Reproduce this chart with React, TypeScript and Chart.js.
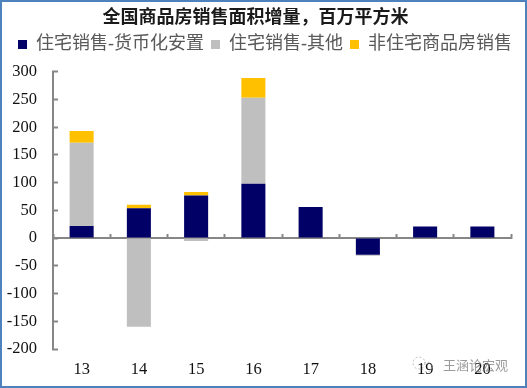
import React, { useEffect, useRef } from "react";
import { Chart, registerables } from "chart.js";

Chart.register(...registerables);

const categories = ["13", "14", "15", "16", "17", "18", "19", "20"];
const seriesNames = ["住宅销售-货币化安置", "住宅销售-其他", "非住宅商品房销售"];
const resettlement = [22, 54, 77, 98, 56, -30, 21, 21];
const otherResidential = [150, -160, -5, 155, 0, -2, 0, 0];
const nonResidential = [21, 6, 6, 36, 0, 0, 0, 0];
const titleText = "全国商品房销售面积增量，百万平方米";
const watermarkText = "王涵论宏观";

const SERIF = '"Liberation Serif", "Noto Sans CJK SC", serif';
const AXIS = "#868686";

const decorPlugin = {
  id: "decor",
  afterLayout(chart: any) {
    chart.legend.left += 8;
    chart.legend.right += 8;
  },
  afterDraw(chart: any) {
    const { ctx, width, height } = chart;
    ctx.save();
    ctx.strokeStyle = "#4f81bd";
    ctx.lineWidth = 2;
    ctx.strokeRect(1, 1, width - 2, height - 2);
    ctx.fillStyle = "rgba(120,120,120,0.75)";
    ctx.font = '13px "Noto Sans CJK SC"';
    ctx.textBaseline = "middle";
    ctx.fillText(watermarkText, 443, 365);
    ctx.strokeStyle = "rgba(170,170,170,0.8)";
    ctx.lineWidth = 1;
    ctx.setLineDash([2, 2]);
    ctx.beginPath();
    ctx.arc(419, 363, 6, 0, Math.PI * 2);
    ctx.stroke();
    ctx.beginPath();
    ctx.arc(427, 367, 5, 0, Math.PI * 2);
    ctx.stroke();
    ctx.restore();
  },
};

export default function App() {
  const ref = useRef<HTMLCanvasElement>(null);
  useEffect(() => {
    document.body.style.margin = "0";
    const bar = { barPercentage: 1, categoryPercentage: 0.42, xAxisID: "x", stack: "s" };
    const chart = new Chart(ref.current!, {
      type: "bar",
      data: {
        labels: categories,
        datasets: [
          { ...bar, label: seriesNames[0], data: resettlement, backgroundColor: "#000066" },
          { ...bar, label: seriesNames[1], data: otherResidential, backgroundColor: "#bfbfbf" },
          { ...bar, label: seriesNames[2], data: nonResidential, backgroundColor: "#ffc000" },
        ],
      },
      options: {
        responsive: false,
        animation: false,
        layout: { padding: { left: 0, right: 16, top: 6, bottom: 0 } },
        plugins: {
          tooltip: { enabled: false },
          title: {
            display: true,
            text: titleText,
            color: "#1a1a1a",
            font: { family: SERIF, size: 18, weight: "bold" },
            padding: { top: 2, bottom: -1 },
          },
          subtitle: {
            display: true,
            text: " ",
            weight: 500,
            font: { size: 1 },
            padding: { top: 0, bottom: 7 },
          },
          legend: {
            display: true,
            align: "end",
            labels: {
              boxWidth: 9,
              boxHeight: 9,
              padding: 7,
              color: "#595959",
              font: { family: SERIF, size: 18 },
            },
          },
        },
        scales: {
          x: {
            stacked: true,
            position: "bottom",
            afterFit(s: any) {
              s.height = 39;
            },
            grid: { display: false, drawTicks: false },
            border: { display: false },
            ticks: {
              color: "#111",
              font: { family: SERIF, size: 16.5 },
              padding: 11,
              maxRotation: 0,
              autoSkip: false,
            },
          },
          axis0: {
            type: "category",
            labels: categories,
            axis: "x",
            position: { y: 0 },
            offset: true,
            grid: {
              offset: true,
              drawOnChartArea: false,
              drawTicks: true,
              tickLength: -5,
              tickWidth: 2,
              tickColor: AXIS,
            },
            border: { display: true, color: AXIS, width: 2 },
            ticks: { display: false },
          },
          y: {
            stacked: true,
            min: -200,
            max: 300,
            afterFit(s: any) {
              s.width = 53;
            },
            grid: {
              drawOnChartArea: false,
              drawTicks: true,
              tickLength: -5,
              tickWidth: 2,
              tickColor: AXIS,
            },
            border: { display: true, color: AXIS, width: 2 },
            ticks: {
              stepSize: 50,
              color: "#111",
              font: { family: SERIF, size: 16.5 },
              padding: 21,
              callback: (v: any) => String(v),
            },
          },
        },
      } as any,
      plugins: [decorPlugin],
    });
    return () => chart.destroy();
  }, []);
  return <canvas ref={ref} width={527} height={388} style={{ display: "block" }} />;
}
